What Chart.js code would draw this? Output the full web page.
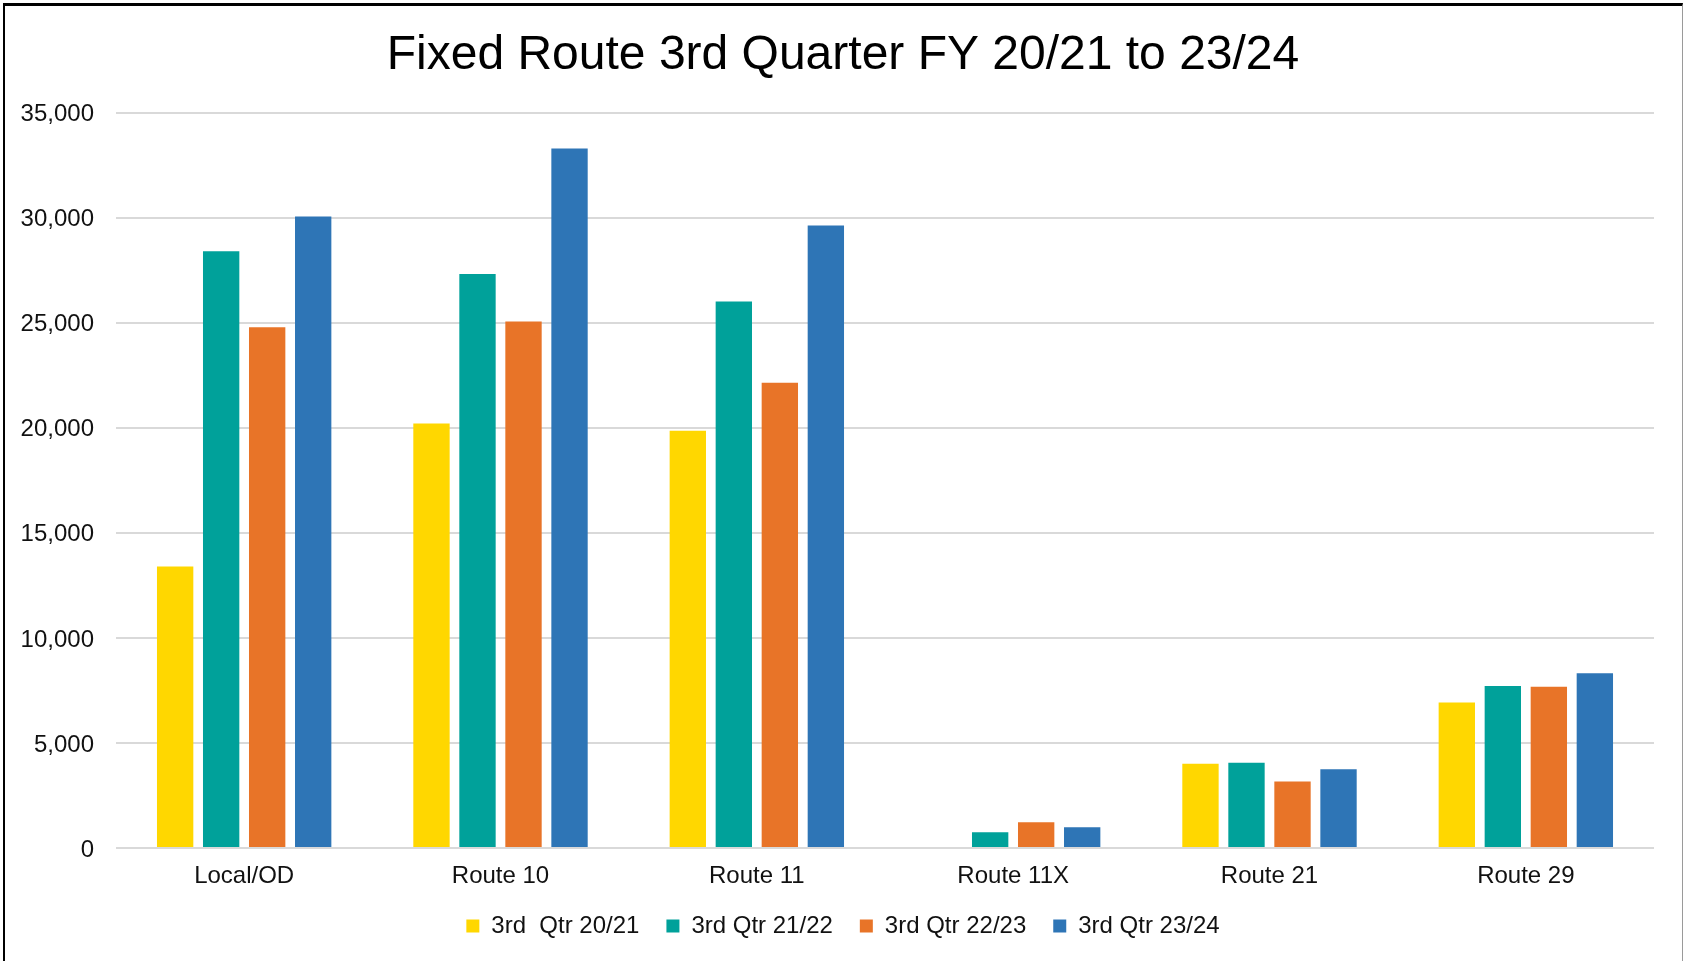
<!DOCTYPE html>
<html>
<head>
<meta charset="utf-8">
<script src="https://cdn.jsdelivr.net/npm/chart.js@4/dist/chart.umd.min.js"></script>
<style>
  html, body { margin: 0; padding: 0; background: #fff; overflow: hidden; }
  #frame {
    position: absolute; left: 3px; top: 3px; width: 1677px; height: 1100px;
    border-left: 2px solid #000; border-top: 3px solid #000; border-right: 1px solid #9a9a9a;
  }
  #wrap { position: absolute; left: 0; top: 0; width: 1683px; height: 961px; }
</style>
</head>
<body>
<div id="frame"></div>
<div id="wrap"><canvas id="barChart" width="1683" height="961"></canvas></div>
<script>
var routes = ["Local/OD", "Route 10", "Route 11", "Route 11X", "Route 21", "Route 29"];
var qtr2021 = [13400, 20200, 19860, null, 4010, 6920];
var qtr2122 = [28400, 27320, 26010, 750, 4060, 7710];
var qtr2223 = [24780, 25060, 22140, 1220, 3170, 7670];
var qtr2324 = [30060, 33290, 29630, 990, 3750, 8320];
var yTicks = [0, 5000, 10000, 15000, 20000, 25000, 30000, 35000];

var fontFamily = '"Liberation Sans", Arial, sans-serif';

var barData = {
    labels: routes,
    datasets: [
        { label: "3rd  Qtr 20/21", backgroundColor: "#FFD700", data: qtr2021 },
        { label: "3rd Qtr 21/22", backgroundColor: "#00A19A", data: qtr2122 },
        { label: "3rd Qtr 22/23", backgroundColor: "#E87428", data: qtr2223 },
        { label: "3rd Qtr 23/24", backgroundColor: "#2E75B6", data: qtr2324 }
    ]
};

var barOptions = {
    responsive: false,
    animation: false,
    layout: { padding: { left: 3, right: 0, top: 0, bottom: 13 } },
    datasets: { bar: { categoryPercentage: 0.718, barPercentage: 0.79, borderWidth: 0 } },
    plugins: {
        title: {
            display: true,
            text: "Fixed Route 3rd Quarter FY 20/21 to 23/24",
            color: "#000",
            font: { family: fontFamily, size: 48, weight: "normal", lineHeight: 1.2 },
            padding: { top: 27, bottom: 28 }
        },
        legend: {
            position: "bottom",
            labels: {
                color: "#111",
                boxWidth: 13,
                boxHeight: 13,
                padding: 27,
                font: { family: fontFamily, size: 24 }
            }
        },
        tooltip: { enabled: false }
    },
    scales: {
        x: {
            grid: { display: false },
            border: { display: false },
            ticks: { color: "#111", padding: 6, font: { family: fontFamily, size: 24 } },
            afterFit: function (scale) { scale.height = 39; }
        },
        y: {
            min: 0,
            max: 35000,
            grid: { color: "#d9d9d9", lineWidth: 2, drawTicks: false },
            border: { display: false },
            afterBuildTicks: function (scale) {
                scale.ticks = yTicks.map(function (v) { return { value: v }; });
            },
            ticks: {
                color: "#111",
                padding: 22,
                labelOffset: 2,
                font: { family: fontFamily, size: 24 },
                callback: function (v) { return Number(v).toLocaleString("en-US"); }
            },
            afterFit: function (scale) { scale.width = 113; }
        },
        // empty right-hand axis, only keeps the plot clear of the right edge
        yRight: {
            position: "right",
            display: true,
            grid: { display: false },
            border: { display: false },
            ticks: { display: false },
            afterFit: function (scale) { scale.width = 29; }
        }
    }
};

var ctx = document.getElementById("barChart").getContext("2d");
new Chart(ctx, { type: "bar", data: barData, options: barOptions });
</script>
</body>
</html>
